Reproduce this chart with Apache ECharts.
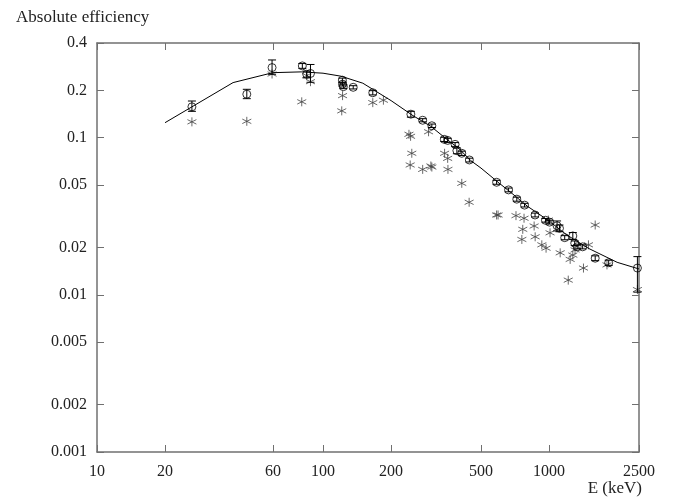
<!DOCTYPE html>
<html>
<head>
<meta charset="utf-8">
<script src="https://cdn.jsdelivr.net/npm/echarts@6/dist/echarts.min.js"></script>
<style>
html,body{margin:0;padding:0;background:#fff}
#chart{width:675px;height:497px}
</style>
</head>
<body>
<div id="chart"></div>
<script>
// axis ticks (log-log plot)
var xTicks = [10, 20, 60, 100, 200, 500, 1000, 2500];
var yTicks = [0.001, 0.002, 0.005, 0.01, 0.02, 0.05, 0.1, 0.2, 0.4];

// measured efficiency (open circles with error bars)
var measE    = [26.3, 46, 59.5, 81, 84.7, 88, 121.8, 122, 123, 136, 166, 244.7, 276, 303, 344, 356, 384, 391, 411, 444,
                586, 662, 720, 779, 867, 964, 1005, 1085, 1112, 1173, 1274, 1299, 1332, 1408, 1600, 1836, 2460];
var measEff  = [0.157, 0.189, 0.279, 0.286, 0.253, 0.256, 0.232, 0.219, 0.211, 0.209, 0.193, 0.141, 0.129, 0.119, 0.0975, 0.096, 0.0906, 0.0826, 0.0795, 0.0721,
                0.052, 0.0465, 0.0406, 0.0372, 0.0322, 0.0298, 0.029, 0.0275, 0.0265, 0.0231, 0.0237, 0.0213, 0.0202, 0.0202, 0.0171, 0.016, 0.0148];
var measLow  = [0.147, 0.177, 0.253, 0.276, 0.24, 0.225, 0.225, 0.213, 0.205, 0.204, 0.187, 0.135, 0.126, 0.116, 0.0945, 0.093, 0.088, 0.079, 0.077, 0.070,
                0.0505, 0.0452, 0.0394, 0.0362, 0.0313, 0.029, 0.0282, 0.0255, 0.0252, 0.0224, 0.0225, 0.0206, 0.0196, 0.0196, 0.0165, 0.0154, 0.0104];
var measHigh = [0.171, 0.203, 0.312, 0.296, 0.265, 0.292, 0.239, 0.225, 0.217, 0.214, 0.199, 0.147, 0.132, 0.122, 0.1005, 0.099, 0.093, 0.086, 0.082, 0.074,
                0.0535, 0.0478, 0.0418, 0.0382, 0.0331, 0.0306, 0.0298, 0.0295, 0.0278, 0.0238, 0.0249, 0.022, 0.0208, 0.0208, 0.0177, 0.0166, 0.0175];

// second data set (asterisks)
var starE   = [26.3, 46, 59.5, 80.5, 84.7, 88, 122, 121, 166, 185, 240, 244, 247, 243, 276, 300, 303, 293, 345, 356, 357, 411, 443,
               586, 595, 714, 775, 765, 758, 859, 868, 929, 970, 1010, 993, 1120, 1240, 1274, 1303, 1216, 1420, 1600, 1494, 1804, 2460];
var starEff = [0.126, 0.127, 0.254, 0.169, 0.248, 0.227, 0.185, 0.148, 0.167, 0.173, 0.105, 0.102, 0.0795, 0.067, 0.0628, 0.066, 0.065, 0.109, 0.0795, 0.0738, 0.0628, 0.0512, 0.0388,
               0.0322, 0.0322, 0.0319, 0.0307, 0.0261, 0.0225, 0.0274, 0.0234, 0.0208, 0.0198, 0.0248, 0.0299, 0.0185, 0.0168, 0.0179, 0.0193, 0.0124, 0.0148, 0.0278, 0.0208, 0.0155, 0.0108];

// fitted curve
var fitE   = [20, 40, 60, 80, 100, 120, 150, 200, 250, 300, 350, 400, 450, 500, 600, 700, 800, 1000, 1200, 1500, 2000, 2500];
var fitEff = [0.1245, 0.224, 0.259, 0.262, 0.257, 0.246, 0.222, 0.172, 0.138, 0.118, 0.0985, 0.085, 0.0715, 0.064, 0.0515, 0.0431, 0.0367, 0.0295, 0.0240, 0.0197, 0.0161, 0.0146];

var lg = Math.log10;
var font = 'Liberation Serif';
var axisGray = '#707070';

function pairs(xs, ys) {
  return xs.map(function (x, i) { return [lg(x), lg(ys[i])]; });
}
function fmt(v) {
  return String(Number(Math.pow(10, v).toPrecision(6)));
}

var chart = echarts.init(document.getElementById('chart'));

var xBase = {
  type: 'value',
  min: lg(10),
  max: lg(2500),
  splitLine: { show: false },
  axisLine: { lineStyle: { color: axisGray, width: 1.5 } },
  axisTick: { inside: true, length: 7, customValues: xTicks.map(lg), lineStyle: { color: axisGray } }
};
var yBase = {
  type: 'value',
  min: lg(0.001),
  max: lg(0.4),
  splitLine: { show: false },
  axisLine: { lineStyle: { color: axisGray, width: 1.5 } },
  axisTick: { inside: true, length: 7, customValues: yTicks.map(lg), lineStyle: { color: axisGray } }
};

var asterisk = 'path://M0,-5L0,5M-4.33,-2.5L4.33,2.5M-4.33,2.5L4.33,-2.5';

chart.setOption({
  animation: false,
  title: [
    { text: 'Absolute efficiency', left: 16, top: 9, padding: 0, textStyle: { fontFamily: font, fontSize: 17, fontWeight: 'normal', color: '#222' } },
    { text: 'E (keV)', right: 33, top: 480, padding: 0, textStyle: { fontFamily: font, fontSize: 17, fontWeight: 'normal', color: '#222' } }
  ],
  grid: { left: 97, right: 36, top: 43, bottom: 45, outerBoundsMode: 'none' },
  xAxis: [
    Object.assign({}, xBase, {
      position: 'bottom',
      axisLabel: { customValues: xTicks.map(lg), formatter: fmt, margin: 12, fontFamily: font, fontSize: 16, color: '#222' }
    }),
    Object.assign({}, xBase, { position: 'top', axisLabel: { show: false } })
  ],
  yAxis: [
    Object.assign({}, yBase, {
      position: 'left',
      axisLabel: { customValues: yTicks.map(lg), formatter: fmt, margin: 10, fontFamily: font, fontSize: 16, color: '#222' }
    }),
    Object.assign({}, yBase, { position: 'right', axisLabel: { show: false } })
  ],
  series: [
    {
      type: 'line',
      data: pairs(fitE, fitEff),
      showSymbol: false,
      lineStyle: { color: '#000', width: 1 },
      z: 3
    },
    {
      type: 'scatter',
      data: pairs(starE, starEff),
      symbol: asterisk,
      symbolSize: 9,
      itemStyle: { color: 'rgba(0,0,0,0)', borderColor: '#444', borderWidth: 1 },
      z: 2
    },
    {
      type: 'custom',
      data: measE.map(function (e, i) { return [lg(e), lg(measLow[i]), lg(measHigh[i])]; }),
      renderItem: function (params, api) {
        var lo = api.coord([api.value(0), api.value(1)]);
        var hi = api.coord([api.value(0), api.value(2)]);
        var w = 4;
        var st = { stroke: '#000', lineWidth: 1 };
        return {
          type: 'group',
          children: [
            { type: 'line', shape: { x1: lo[0], y1: lo[1], x2: hi[0], y2: hi[1] }, style: st },
            { type: 'line', shape: { x1: lo[0] - w, y1: lo[1], x2: lo[0] + w, y2: lo[1] }, style: st },
            { type: 'line', shape: { x1: hi[0] - w, y1: hi[1], x2: hi[0] + w, y2: hi[1] }, style: st }
          ]
        };
      },
      z: 4
    },
    {
      type: 'scatter',
      data: pairs(measE, measEff),
      symbol: 'circle',
      symbolSize: 8,
      itemStyle: { color: 'rgba(0,0,0,0)', borderColor: '#000', borderWidth: 1 },
      z: 5
    }
  ]
});
</script>
</body>
</html>
